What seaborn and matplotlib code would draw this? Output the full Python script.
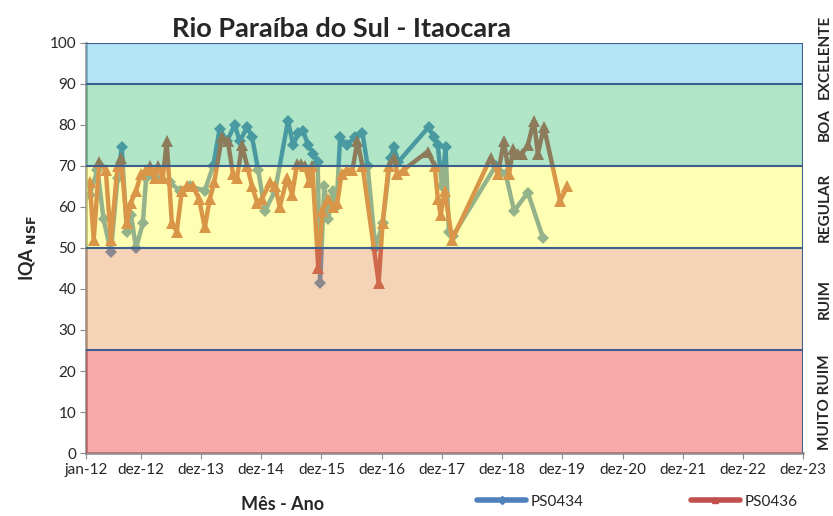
import matplotlib
matplotlib.use("Agg")
import matplotlib.pyplot as plt
from matplotlib.lines import Line2D
import numpy as np
import pandas as pd
import seaborn as sns

# PS0434 readings
ps0434_dates = ["2012-01-25", "2012-03-12", "2012-04-18", "2012-06-01", "2012-07-12", "2012-08-06",
                "2012-09-06", "2012-10-01", "2012-11-01", "2012-12-12", "2013-01-01", "2013-02-06",
                "2013-05-23", "2013-07-23", "2013-09-23", "2013-12-23", "2014-02-12", "2014-03-23",
                "2014-05-06", "2014-06-23", "2014-07-23", "2014-09-06", "2014-10-06", "2014-11-12",
                "2014-12-23", "2015-02-23", "2015-05-12", "2015-06-12", "2015-07-12", "2015-08-12",
                "2015-09-12", "2015-10-12", "2015-11-08", "2015-11-23", "2015-12-18", "2016-01-12",
                "2016-02-06", "2016-03-01", "2016-03-23", "2016-05-01", "2016-06-23", "2016-08-06",
                "2016-09-06", "2016-10-23", "2016-12-06", "2017-01-23", "2017-02-12", "2017-03-12",
                "2017-09-12", "2017-10-12", "2017-11-06", "2017-12-01", "2017-12-23", "2018-01-12",
                "2018-02-06", "2018-10-23", "2018-12-23", "2019-02-12", "2019-05-06", "2019-08-06"]
ps0434_iqa = [63, 69, 57, 49, 67, 74.5,
              54, 58, 50, 56, 67, 68,
              66, 64, 65, 64, 70, 79,
              76, 80, 76, 79.5, 77, 69,
              59, 64, 81, 75, 78, 78.5,
              75, 73, 71, 41.5, 65, 57,
              64, 60, 77, 75, 77, 78,
              70, 50, 56, 72, 74.5, 71,
              79.5, 77, 75, 65, 74.5, 54,
              53, 70, 68, 59, 63.5, 52.5]

# PS0436 readings
ps0436_dates = ["2012-01-25", "2012-02-18", "2012-03-23", "2012-05-01", "2012-06-01", "2012-07-12",
                "2012-08-01", "2012-09-06", "2012-10-01", "2012-11-01", "2012-12-01", "2013-01-01",
                "2013-01-23", "2013-02-23", "2013-03-12", "2013-04-12", "2013-05-06", "2013-06-06",
                "2013-07-06", "2013-08-06", "2013-09-06", "2013-10-12", "2013-11-18", "2013-12-23",
                "2014-01-23", "2014-02-18", "2014-04-06", "2014-05-12", "2014-06-12", "2014-07-06",
                "2014-08-06", "2014-09-06", "2014-10-06", "2014-11-06", "2014-12-06", "2015-01-23",
                "2015-02-23", "2015-03-23", "2015-05-06", "2015-06-06", "2015-07-06", "2015-08-01",
                "2015-08-23", "2015-09-18", "2015-10-06", "2015-11-12", "2015-12-06", "2016-01-12",
                "2016-02-12", "2016-03-06", "2016-04-01", "2016-05-01", "2016-06-06", "2016-07-06",
                "2016-08-06", "2016-11-12", "2016-12-06", "2017-01-12", "2017-02-12", "2017-03-06",
                "2017-04-12", "2017-09-06", "2017-10-18", "2017-11-06", "2017-11-23", "2017-12-18",
                "2018-02-01", "2018-09-23", "2018-11-06", "2018-12-12", "2019-01-12", "2019-02-06",
                "2019-03-06", "2019-04-01", "2019-05-06", "2019-06-12", "2019-07-06", "2019-08-12",
                "2019-11-18", "2020-01-01"]
ps0436_iqa = [66, 52, 71, 69, 52, 70,
              72, 56, 61, 64, 68, 69,
              70, 67, 70, 67, 76, 56,
              54, 64, 65, 65, 62, 55,
              62, 66, 77, 76, 68, 67,
              75, 70, 65, 61, 62, 66,
              65, 60, 67, 63, 70.5, 70.5,
              70, 66, 70, 45, 59, 62,
              60, 61, 68, 69, 69, 76,
              70, 41.5, 56, 70, 72, 68,
              69, 73.5, 70, 62, 58, 64,
              52, 72, 68, 76, 68, 74,
              73, 73, 75, 81, 73, 79.5,
              61.5, 65]

tick_dates = ["2012-01-01"] + [f"{y}-12-01" for y in range(2012, 2024)]
tick_labels = ["jan-12"] + [f"dez-{y % 100:02d}" for y in range(2012, 2024)]

# quality classes
band_names = ["MUITO RUIM", "RUIM", "REGULAR", "BOA", "EXCELENTE"]
band_lo = [0, 25, 50, 70, 90]
band_hi = [25, 50, 70, 90, 100]
band_colors = ["#F22A2A", "#E6914A", "#FFFF41", "#3EC075", "#41BEEB"]

df_a = pd.DataFrame({"data": pd.to_datetime(ps0434_dates), "iqa": ps0434_iqa})
df_b = pd.DataFrame({"data": pd.to_datetime(ps0436_dates), "iqa": ps0436_iqa})

sns.set_style("white")
plt.rcParams["font.family"] = ["Lato", "DejaVu Sans"]

fig = plt.figure(figsize=(8.33, 5.16), dpi=100)
ax = fig.add_axes([0.103, 0.122, 0.861, 0.795])

blue = "#4F81BD"
red = "#C0504D"
sns.lineplot(data=df_a, x="data", y="iqa", ax=ax, color=blue, lw=3.2,
             marker="D", markersize=6, markeredgewidth=0, zorder=2)
sns.lineplot(data=df_b, x="data", y="iqa", ax=ax, color=red, lw=3.2,
             marker="^", markersize=8, markeredgewidth=0, zorder=2)

# coloured bands laid over the lines, like the excel original
for lo, hi, c in zip(band_lo, band_hi, band_colors):
    ax.axhspan(lo, hi, color=c, alpha=0.4, lw=0, zorder=3)
for v in band_hi:
    ax.axhline(v, color="#3D5F8E", lw=1.5, zorder=4)
ax.axvline(pd.Timestamp("2023-12-01"), color="#3D5F8E", lw=1.5, zorder=4)

ax.set_xlim(pd.Timestamp("2012-01-01"), pd.Timestamp("2023-12-01"))
ax.set_ylim(0, 100)
ax.set_yticks(np.arange(0, 101, 10))
ax.set_xticks(pd.to_datetime(tick_dates))
ax.set_xticklabels(tick_labels)
ax.tick_params(axis="both", labelsize=11, length=4, color="#888888", direction="out",
               bottom=True, left=True, pad=3)

for side in ["top", "right"]:
    ax.spines[side].set_visible(False)
for side in ["left", "bottom"]:
    ax.spines[side].set_color("#8C8C8C")
    ax.spines[side].set_linewidth(1.8)

ax.set_xlabel("Mês - Ano", fontsize=13, fontweight="bold", labelpad=6)
ax.xaxis.set_label_coords(0.275, -0.105)
ax.set_ylabel(r"IQA $_{\mathbf{NSF}}$", fontsize=13, fontweight="bold", labelpad=8)
ax.set_title("Rio Paraíba do Sul - Itaocara", fontsize=19.5, fontweight="bold", pad=4,
             x=0.356)

# class labels on the right, roughly centred on each band
label_pos = [12.5, 37.5, 60, 80, 96.5]
for name, yp in zip(band_names, label_pos):
    ax.text(1.031, yp, name, transform=ax.get_yaxis_transform(), rotation=90,
            ha="center", va="center", fontsize=11, fontweight="bold", clip_on=False)

handles = [Line2D([], [], color=blue, lw=4, marker="D", markersize=4),
           Line2D([], [], color=red, lw=4, marker="^", markersize=5)]
fig.legend(handles, ["PS0434", "PS0436"], loc="center", bbox_to_anchor=(0.765, 0.028),
           ncol=2, frameon=False, fontsize=11, handlelength=3.2, columnspacing=7,
           handletextpad=0.3)

fig.savefig("out.png", dpi=100)
